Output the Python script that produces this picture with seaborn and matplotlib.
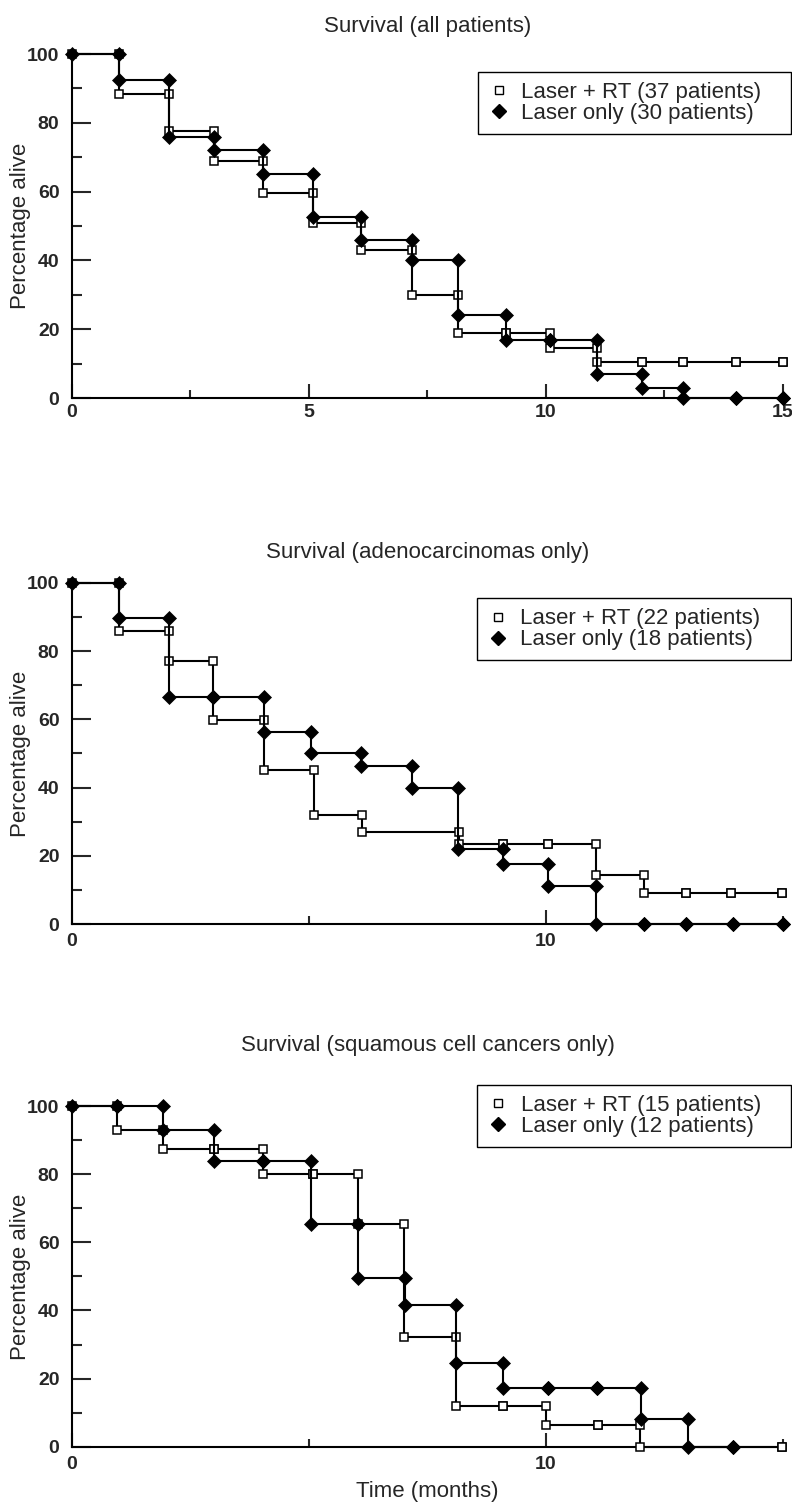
import numpy as np
import pandas as pd
import seaborn as sns
import matplotlib.pyplot as plt
from matplotlib.lines import Line2D

# panel titles and legend labels
titles = ["Survival (all patients)",
          "Survival (adenocarcinomas only)",
          "Survival (squamous cell cancers only)"]
rt_labels = ["Laser + RT (37 patients)", "Laser + RT (22 patients)", "Laser + RT (15 patients)"]
only_labels = ["Laser only (30 patients)", "Laser only (18 patients)", "Laser only (12 patients)"]

# all patients: event times (months) and % alive after each event
all_rt_t = [0, 1, 2.05, 3.0, 4.03, 5.08, 6.1, 7.17, 8.14, 9.16, 10.08, 11.08, 12.03, 12.9, 14.0, 15.0]
all_rt_s = [100, 88.5, 77.5, 69, 59.5, 51, 43, 30, 19, 19, 14.5, 10.5, 10.5, 10.5, 10.5, 10.5]
all_only_t = [0, 1, 2.05, 3.0, 4.03, 5.08, 6.1, 7.17, 8.14, 9.16, 10.08, 11.08, 12.03, 12.9, 14.0, 15.0]
all_only_s = [100, 92.5, 76, 72, 65, 52.5, 46, 40, 24, 17, 17, 7, 3, 0, 0, 0]

# adenocarcinomas
ade_rt_t = [0, 1, 2.05, 2.98, 4.05, 5.1, 6.12, 8.16, 9.1, 10.05, 11.05, 12.07, 12.95, 13.9, 14.97]
ade_rt_s = [100, 86, 77, 59.7, 45, 32, 27, 23.5, 23.5, 23.5, 14.5, 9, 9, 9, 9]
ade_only_t = [0, 1, 2.05, 2.98, 4.05, 5.05, 6.1, 7.18, 8.15, 9.1, 10.05, 11.05, 12.07, 12.95, 13.95, 15.0]
ade_only_s = [100, 89.7, 66.4, 66.4, 56.2, 50, 46.2, 39.8, 22, 17.5, 11, 0, 0, 0, 0, 0]

# squamous cell cancers
sq_rt_t = [0, 0.96, 1.93, 3.0, 4.03, 5.08, 6.03, 7.0, 8.1, 9.1, 10.0, 11.1, 11.98, 14.97]
sq_rt_s = [100, 93, 87.3, 87.3, 80.2, 80.2, 65.5, 32.2, 12, 12, 6.4, 6.4, 0, 0]
sq_only_t = [0, 0.96, 1.93, 3.0, 4.03, 5.05, 6.03, 7.03, 8.1, 9.1, 10.05, 11.08, 12.0, 13.0, 13.95]
sq_only_s = [100, 100, 93, 84, 84, 65.5, 49.5, 41.5, 24.5, 17.3, 17.3, 17.3, 8.2, 0, 0]

panels = [(all_rt_t, all_rt_s, all_only_t, all_only_s),
          (ade_rt_t, ade_rt_s, ade_only_t, ade_only_s),
          (sq_rt_t, sq_rt_s, sq_only_t, sq_only_s)]


def step_frame(t, s):
    # vertices of a Kaplan-Meier style staircase, both levels at each event
    xs, ys = [t[0]], [s[0]]
    for i in range(1, len(t)):
        xs += [t[i], t[i]]
        ys += [s[i - 1], s[i]]
    return pd.DataFrame({"time": xs, "pct": ys})


sns.set_style("ticks")
plt.rcParams["font.family"] = ["Liberation Sans", "DejaVu Sans"]
tick_font = ["Liberation Sans Narrow", "Liberation Sans", "DejaVu Sans"]

fig = plt.figure(figsize=(7.92, 15.02), dpi=100)
rects = [[0.0909, 0.7350, 0.8977, 0.2290],
         [0.0909, 0.3848, 0.8977, 0.2272],
         [0.0909, 0.0368, 0.8977, 0.2268]]
title_pads = [16, 17.5, 39.5]
# legend box: left edge, top edge, width (axes fraction)
legend_box = [(0.571, 0.948, 0.440), (0.569, 0.954, 0.442), (0.570, 1.062, 0.441)]
xtick_pads = [4, 6.5, 6.5]

for k in range(3):
    ax = fig.add_axes(rects[k])
    rt_t, rt_s, on_t, on_s = panels[k]

    sns.lineplot(data=step_frame(rt_t, rt_s), x="time", y="pct", sort=False, estimator=None,
                 color="black", linewidth=1.5, marker="s", markersize=6.3,
                 markerfacecolor="white", markeredgecolor="black", markeredgewidth=1.1,
                 clip_on=False, zorder=3, ax=ax)
    sns.lineplot(data=step_frame(on_t, on_s), x="time", y="pct", sort=False, estimator=None,
                 color="black", linewidth=1.5, marker="D", markersize=7,
                 markerfacecolor="black", markeredgecolor="black", markeredgewidth=0.5,
                 clip_on=False, zorder=4, ax=ax)

    ax.set_xlim(0, 15)
    ax.set_ylim(0, 100)
    sns.despine(ax=ax)
    for sp in ["left", "bottom"]:
        ax.spines[sp].set_linewidth(1.5)
        ax.spines[sp].set_color("black")

    ax.set_yticks([0, 20, 40, 60, 80, 100])
    ax.set_yticks([10, 30, 50, 70, 90], minor=True)
    if k == 0:
        ax.set_xticks([0, 5, 10, 15])
        ax.set_xticks([2.5, 7.5, 12.5], minor=True)
    else:
        ax.set_xticks([0, 10])
        ax.set_xticks([5, 15], minor=True)

    ax.tick_params(axis="y", which="major", direction="in", length=13.5, width=1.5,
                   pad=9, labelsize=14)
    ax.tick_params(axis="y", which="minor", direction="in", length=7, width=1.5)
    ax.tick_params(axis="x", which="major", direction="in", length=10, width=1.5,
                   pad=xtick_pads[k], labelsize=14)
    ax.tick_params(axis="x", which="minor", direction="in", length=5.5, width=1.5)
    for lab in ax.get_xticklabels() + ax.get_yticklabels():
        lab.set_fontfamily(tick_font)
        lab.set_fontweight("bold")

    ax.set_xlabel("")
    ax.set_ylabel("Percentage alive", fontsize=16)
    ax.yaxis.set_label_coords(-0.058, 0.5)
    ax.set_title(titles[k], fontsize=16, pad=title_pads[k])

    handles = [Line2D([], [], marker="s", markersize=6, markerfacecolor="white",
                      markeredgecolor="black", markeredgewidth=1.0, linestyle="none"),
               Line2D([], [], marker="D", markersize=7, color="black", linestyle="none")]
    x0, y0, w = legend_box[k]
    leg = ax.legend(handles, [rt_labels[k], only_labels[k]], loc="upper left",
                    bbox_to_anchor=(x0, y0, w, 0), mode="expand", fontsize=16,
                    frameon=True, fancybox=False, edgecolor="black", framealpha=1,
                    handlelength=1.0, handletextpad=0.5, borderpad=0.45,
                    labelspacing=0.0, borderaxespad=0)
    leg.get_frame().set_linewidth(1.0)

    if k == 2:
        ax.set_xlabel("Time (months)", fontsize=16, labelpad=6)

fig.savefig("out.png", dpi=100, facecolor="white")
